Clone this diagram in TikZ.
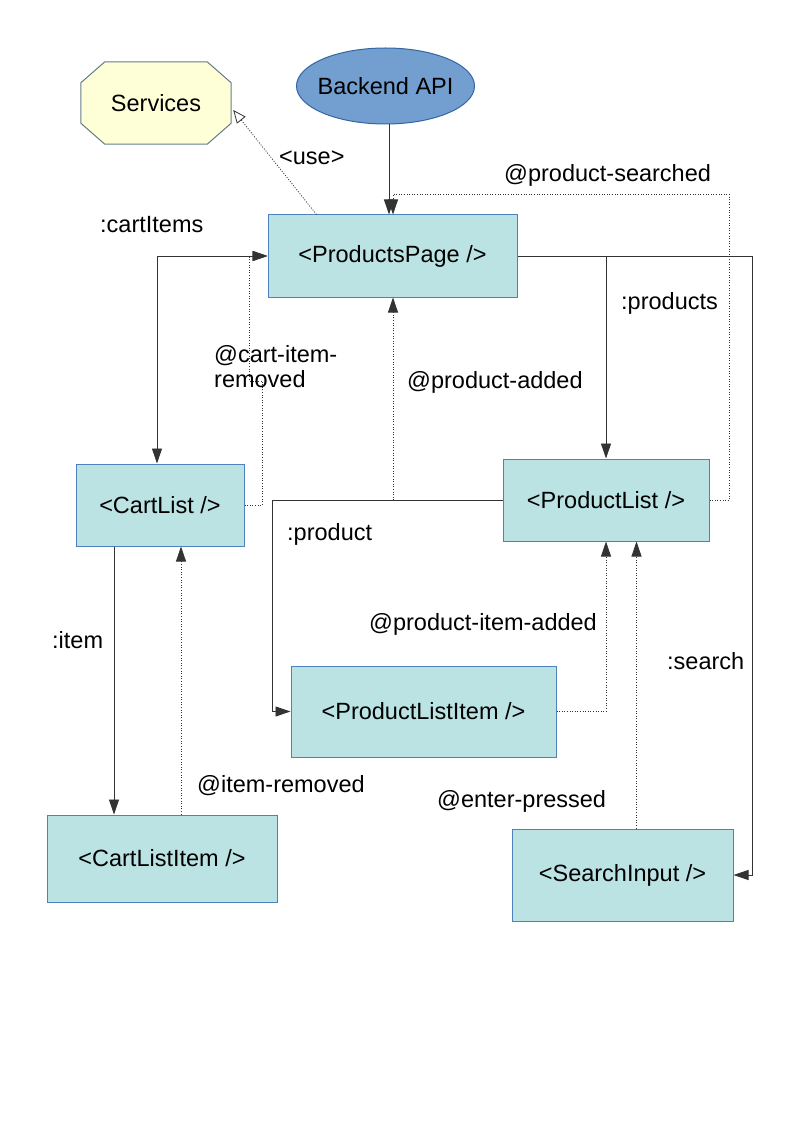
\documentclass[tikz,border=0pt]{standalone}
\usepackage{fontspec}
\setmainfont{Liberation Sans}
\usetikzlibrary{arrows.meta,calc,shapes.geometric,backgrounds}
\definecolor{boxfill}{RGB}{187,227,227}
\definecolor{boxline}{RGB}{79,129,189}
\definecolor{octfill}{RGB}{255,255,215}
\definecolor{octline}{RGB}{100,125,140}
\definecolor{apifill}{RGB}{114,159,207}
\definecolor{apiline}{RGB}{52,101,164}
\definecolor{conncol}{RGB}{51,51,51}
\begin{document}
\begin{tikzpicture}[x=1pt,y=-1pt,
  every node/.style={font=\fontsize{23.5}{25}\selectfont},
  comp/.style={draw=boxline,fill=boxfill,line width=1pt,inner sep=0pt},
  apinode/.style={ellipse,draw=apiline,fill=apifill,line width=1pt,minimum width=178pt,minimum height=76pt,inner sep=0pt},
  octnode/.style={minimum width=150pt,minimum height=82pt,inner sep=0pt},
  octshape/.style={draw=octline,fill=octfill,line width=1pt},
  lbl/.style={anchor=base west,inner sep=0pt},
  conn/.style={draw=conncol,line width=0.9pt},
  evt/.style={draw=conncol,line width=0.8pt,dash pattern=on 1pt off 1.6pt},
  tip/.style={-{Triangle[length=15pt,width=10pt]}},
  tips/.style={{Triangle[length=15pt,width=10pt]}-{Triangle[length=15pt,width=10pt]}},
  usetip/.style={-{Triangle[open,length=13pt,width=11pt,fill=white]}}
]
\useasboundingbox (0,0) rectangle (794,1123);

% nodes
\node[octnode] (srv) at (156,103) {Services};
\begin{scope}[on background layer]
\path[octshape] ($(srv.north west)+(24,0)$) -- ($(srv.north east)+(-24,0)$)
  -- ($(srv.north east)+(0,21)$) -- ($(srv.south east)+(0,-21)$)
  -- ($(srv.south east)+(-24,0)$) -- ($(srv.south west)+(24,0)$)
  -- ($(srv.south west)+(0,-21)$) -- ($(srv.north west)+(0,21)$) -- cycle;
\end{scope}
\node[apinode] (api) at (385.5,86) {\makebox[0pt]{Backend API}};
\node[comp,minimum width=249pt,minimum height=82pt] (pp) at (392.5,256) {<ProductsPage />};
\node[comp,minimum width=168pt,minimum height=82pt] (cl) at (160,505) {<CartList />};
\node[comp,minimum width=206pt,minimum height=82pt] (pl) at (606,500) {<ProductList />};
\node[comp,minimum width=265pt,minimum height=91pt] (pli) at (423.5,711.5) {<ProductListItem />};
\node[comp,minimum width=230pt,minimum height=87pt] (cli) at (162,858.5) {<CartListItem />};
\node[comp,minimum width=221pt,minimum height=92pt] (si) at (622.5,875) {<SearchInput />};

% connectors
\draw[conn,tip] ($(api.south)+(3.5,0)$) -- ($(pp.north)+(-3.5,0)$);
\draw[evt,tip] (pl.east) -- ++(20,0) |- ($(pp.north)+(0.5,-20)$) -- ($(pp.north)+(0.5,0)$);
\draw[conn,tip] (pp.east) -| (pl.north);
\draw[conn,tip] (pp.east) -| ($(si.east)+(19,0)$) -- (si.east);
\draw[evt,tip] ($(si.north)+(14,0)$) coordinate (e1) -- (e1 |- pl.south);
\draw[evt,tip] (pli.east) -| (pl.south);
\draw[conn,tip] (pl.west) -- ++(-230,0) |- (pli.west);
\draw[evt,tip] (pl.west) -| ($(pp.south)+(0.5,0)$);
\draw[conn,tips] ($(cl.north)+(-3,0)$) |- (pp.west);
\draw[evt,tip] (cl.east) -- ++(18,0) -- ++(0,-124) -- ++(-13,0) |- (pp.west);
\draw[conn,tip] ($(cl.south)+(-46,0)$) coordinate (c1) -- (c1 |- cli.north);
\draw[evt,tip] ($(cli.north)+(19,0)$) coordinate (c2) -- (c2 |- cl.south);
\draw[evt,usetip] ($(pp.north)+(-76,0)$) -- ($(srv.east)+(2,7)$);

% labels
\node[lbl] (l1) at (279,165) {<use>};
\node[lbl] (l2) at (100,233) {:cartItems};
\node[lbl] (l3) at (504,182) {@product-searched};
\node[lbl] (l4) at (621,309) {:products};
\node[lbl] (l5) at (407,388) {@product-added};
\node[lbl,align=left] (l6) at (214,387) {@cart-item-\\removed};
\node[lbl] (l7) at (287,540) {:product};
\node[lbl] (l8) at (369,630) {@product-item-added};
\node[lbl] (l9) at (667,669) {:search};
\node[lbl] (l10) at (437,807) {@enter-pressed};
\node[lbl] (l11) at (197,792) {@item-removed};
\node[lbl] (l12) at (52,648) {:item};
\end{tikzpicture}
\end{document}
